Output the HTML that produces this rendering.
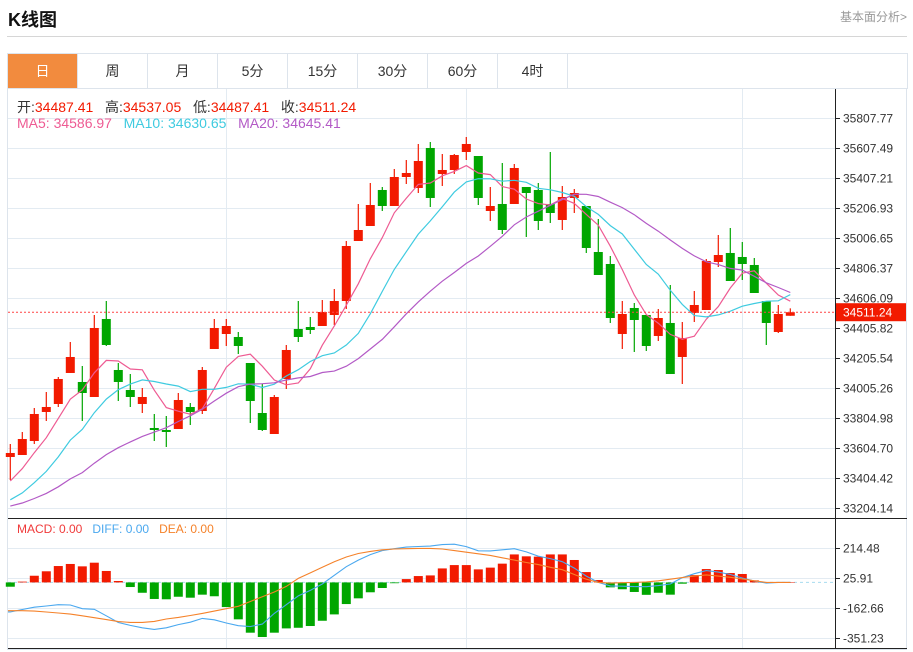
<!DOCTYPE html>
<html><head><meta charset="utf-8">
<style>
body{margin:0;background:#fff;font-family:"Liberation Sans","Noto Sans CJK SC",sans-serif;width:913px;height:652px;overflow:hidden;position:relative}
.title{position:absolute;left:8px;top:6px;font-size:18px;font-weight:bold;color:#111}
.more{position:absolute;right:6px;top:8px;font-size:12px;color:#999}
.hr{position:absolute;left:7px;top:36px;width:900px;height:1px;background:#d6d6d6}
.tabs{position:absolute;left:7px;top:53px;width:899px;height:35px;border:1px solid #dde4ec;border-bottom:none}
.tab{position:absolute;top:0;width:69px;height:35px;line-height:35px;text-align:center;font-size:14px;color:#333;border-right:1px solid #dde4ec}
.tab.on{background:#f28b3e;color:#fff}
svg{position:absolute;left:0;top:0}
</style></head><body>
<div class="title">K线图</div>
<div class="more">基本面分析&gt;</div>
<div class="hr"></div>
<div class="tabs">
<div class="tab on" style="left:0">日</div>
<div class="tab" style="left:70px">周</div>
<div class="tab" style="left:140px">月</div>
<div class="tab" style="left:210px">5分</div>
<div class="tab" style="left:280px">15分</div>
<div class="tab" style="left:350px">30分</div>
<div class="tab" style="left:420px">60分</div>
<div class="tab" style="left:490px">4时</div>
</div>
<svg id="chart" width="913" height="652"></svg>
<script>
const history = [33260,33230,33200,33180,33150,33130,33160,33140,33120,33180,33210,33150,33120,33100,33090,33250,33300,33380,33420];
const opens = [33544.7,33558,33651.5,33845.1,33898.5,34105.5,34045.4,33945.2,34466,34125.5,33992,33898.5,33738.3,33724.9,33731.6,33878.5,33851.8,34265.7,34365.8,34345.8,34172.2,33838.4,33698.2,34065.4,34399.2,34412.5,34419.2,34492.7,34586.1,34986.7,35086.8,35327.2,35220.3,35413.9,35340.5,35607.6,35434,35460.7,35580.8,35554.1,35187,35233.7,35233.7,35347.2,35327.2,35233.7,35126.9,35273.8,35220.3,34913.2,34833.1,34365.8,34539.4,34492.7,34352.5,34439.3,34212.3,34506,34526,34846.5,34906.6,34879.9,34826.5,34586.1,34379.2,34487.41];
const highs = [33631.5,33711.6,33871.8,33978.6,34078.7,34312.4,34152.2,34492.7,34586.1,34172.2,34098.8,34005.3,33831.7,33818.4,33971.9,33905.2,34145.5,34466,34466,34379.2,34172.2,34032,33958.6,34292.4,34586.1,34479.3,34592.8,34666.2,34986.7,35233.7,35373.9,35347.2,35467.4,35527.4,35634.3,35647.6,35567.5,35567.5,35681,35554.1,35347.2,35507.4,35500.7,35347.2,35373.9,35580.8,35353.9,35333.8,35220.3,35133.6,34886.5,34586.1,34572.8,34492.7,34532.7,34692.9,34445.9,34652.9,34866.5,35026.7,35073.5,34980,34873.2,34586.1,34559.4,34537.05];
const lows = [33391.1,33558,33631.5,33785,33878.5,34105.5,33785,33945.2,34285.7,33918.5,33878.5,33838.4,33651.5,33611.4,33731.6,33758.3,33831.7,34265.7,34285.7,34232.3,33771.6,33718.2,33698.2,33998.6,34312.4,34365.8,34419.2,34425.9,34532.7,34986.7,35086.8,35187,35220.3,35367.2,35307.1,35213.7,35353.9,35434,35527.4,35227,35120.2,35033.4,35233.7,35013.4,35060.1,35106.9,35060.1,35173.6,34906.6,34759.7,34439.3,34265.7,34245.7,34252.3,34319.1,34098.8,34032,34445.9,34526,34813.1,34719.6,34726.3,34639.5,34292.4,34372.5,34487.41];
const closes = [33571.4,33664.8,33831.7,33878.5,34065.4,34212.3,33971.9,34405.9,34292.4,34045.4,33945.2,33945.2,33724.9,33711.6,33925.2,33845.1,34125.5,34405.9,34419.2,34285.7,33918.5,33724.9,33945.2,34259,34345.8,34392.5,34512.7,34586.1,34953.3,35060.1,35227,35220.3,35413.9,35440.7,35520.8,35273.8,35460.7,35560.8,35634.3,35273.8,35220.3,35060.1,35474,35307.1,35120.2,35173.6,35280.4,35307.1,34940,34759.7,34472.6,34499.3,34459.3,34285.7,34472.6,34098.8,34339.1,34559.4,34853.2,34893.2,34719.6,34833.1,34639.5,34439.3,34499.3,34511.24];
const macdBars = [-27,5,42,70,103,116,101,124,72,9,-29,-65,-104,-106,-90,-96,-77,-87,-155,-232,-316,-343,-316,-289,-285,-274,-241,-201,-136,-100,-62,-35,-5,21,40,44,88,109,109,82,93,118,176,164,162,176,176,141,65,15,-31,-43,-60,-78,-65,-77,-8,46,84,78,59,53,13,-3,0,0];
const diffs = [-185,-170,-156,-148,-140,-142,-165,-169,-210,-252,-270,-285,-295,-285,-265,-250,-226,-235,-255,-272,-278,-262,-195,-140,-85,-50,-10,45,99,140,175,200,212,222,226,228,238,240,225,199,198,205,212,192,165,150,130,90,40,0,-22,-24,-26,-27,-20,-10,30,55,74,65,50,28,9,-4,0,0];
const deas = [-178,-178,-180,-186,-192,-199,-210,-222,-234,-246,-251,-251,-245,-230,-220,-208,-195,-180,-165,-150,-120,-90,-60,-25,25,60,95,130,160,182,195,205,210,212,214,214,210,200,190,180,170,155,140,125,112,95,80,50,20,0,-4,-2,0,3,10,20,30,40,47,40,32,22,10,0,0,0];
const priceTicks = ["35807.77","35607.49","35407.21","35206.93","35006.65","34806.37","34606.09","34405.82","34205.54","34005.26","33804.98","33604.70","33404.42","33204.14"];
const macdTicks = ["214.48","25.91","-162.66","-351.23"];

const NS="http://www.w3.org/2000/svg";
const svg=document.getElementById('chart');
function mk(tag,attrs,parent){const e=document.createElementNS(NS,tag);for(const k in attrs)e.setAttribute(k,attrs[k]);(parent||svg).appendChild(e);return e;}
const pTop=35807.77,pBot=33204.14,yTop=118,yBot=508;
function py(p){return yTop+(pTop-p)*(yBot-yTop)/(pTop-pBot);}
const mTop=214.48,mBot=-351.23,myTop=548.3,myBot=638.3;
function my(v){return myTop+(mTop-v)*(myBot-myTop)/(mTop-mBot);}
function cx(i){return 10.3+12*i;}

let f=mk('rect',{x:7.5,y:88.5,width:899,height:561,fill:'none',stroke:'#dde4ec'});


const grid=mk('g',{stroke:'#e3ebf2','stroke-width':1});


priceTicks.forEach(t=>{const y=Math.round(py(parseFloat(t)))+0.5;mk('line',{x1:8,x2:836,y1:y,y2:y},grid);});
macdTicks.forEach(t=>{const y=Math.round(my(parseFloat(t)))+0.5;mk('line',{x1:8,x2:836,y1:y,y2:y},grid);});
[226.5,466.5,742.5].forEach(x=>{mk('line',{x1:x,x2:x,y1:89,y2:649},grid);});
const ax=mk('g',{stroke:'#222','stroke-width':1});


mk('line',{x1:835.5,x2:835.5,y1:89,y2:649},ax);
mk('line',{x1:8,x2:907,y1:518.5,y2:518.5},ax);
mk('line',{x1:8,x2:907,y1:648.5,y2:648.5},ax);
const lab=mk('g',{'font-size':12,fill:'#333','font-family':'Liberation Sans, sans-serif'});


priceTicks.forEach(t=>{const y=Math.round(py(parseFloat(t)))+0.5;mk('line',{x1:835,x2:840,y1:y,y2:y,stroke:'#222'},lab);const tx=mk('text',{x:843,y:y+4},lab);tx.textContent=t;});
macdTicks.forEach(t=>{const y=Math.round(my(parseFloat(t)))+0.5;mk('line',{x1:835,x2:840,y1:y,y2:y,stroke:'#222'},lab);const tx=mk('text',{x:843,y:y+4},lab);tx.textContent=t;});

const cg=mk('g',{});


const RED='#f21a00',GREEN='#00a600';
for(let i=0;i<closes.length;i++){
  const up=closes[i]>=opens[i];const col=up?RED:GREEN;const x=cx(i);
  const g=mk('g',{},cg);
  
  
  mk('line',{x1:x,x2:x,y1:py(highs[i]),y2:py(lows[i]),stroke:col,'stroke-width':1.2},g);
  const t=py(Math.max(opens[i],closes[i])),b=py(Math.min(opens[i],closes[i]));
  mk('rect',{x:x-4.5,y:t,width:9,height:Math.max(1.5,b-t),fill:col},g);
}
const all=history.concat(closes);
function ma(n){return closes.map((c,i)=>{const j=i+history.length;let s=0;for(let k=j-n+1;k<=j;k++)s+=all[k];return s/n;});}
[[5,'#ee5b93','ma5-line'],[10,'#3fcbe0','ma10-line'],[20,'#b35ac6','ma20-line']].forEach(([n,c,name])=>{
  const v=ma(n);const d=v.map((p,i)=>(i?'L':'M')+cx(i).toFixed(1)+','+py(p).toFixed(1)).join('');
  const pth=mk('path',{d:d,fill:'none',stroke:c,'stroke-width':1.2});
  
  
});
const ly=py(closes[closes.length-1]);
const lp=mk('line',{x1:8,x2:835,y1:ly,y2:ly,stroke:'#f44','stroke-dasharray':'2,2','stroke-width':1});


const lbg=mk('rect',{x:836,y:ly-9,width:70,height:18,fill:'#f21a00'});


const lt=mk('text',{x:843,y:ly+4.5,'font-size':12,fill:'#fff'});
lt.textContent=closes[closes.length-1].toFixed(2);
const zy=my(0);
const zl=mk('line',{x1:8,x2:835,y1:zy,y2:zy,stroke:'#a8dcef','stroke-dasharray':'3,3'});


const mg=mk('g',{});


macdBars.forEach((v,i)=>{const y=my(v);const r=mk('rect',{x:cx(i)-4.5,y:Math.min(y,zy),width:9,height:Math.max(0.5,Math.abs(y-zy)),fill:v>=0?RED:GREEN},mg);
  
  });
[[diffs,'#4aa8ef','diff-line'],[deas,'#f5822a','dea-line']].forEach(([arr,c,name])=>{
  const d=arr.map((v,i)=>(i?'L':'M')+cx(i).toFixed(1)+','+my(v).toFixed(1)).join('');
  const pth=mk('path',{d:'M8,'+my(arr[0]).toFixed(1)+d.replace('M','L'),fill:'none',stroke:c,'stroke-width':1.1});
  
  
});
</script>
<div style="position:absolute;left:17px;top:97px;font-size:14px;white-space:nowrap"><span style="color:#333">开:</span><span style="color:#f21a00">34487.41</span>&nbsp;&nbsp; <span style="color:#333">高:</span><span style="color:#f21a00">34537.05</span>&nbsp;&nbsp; <span style="color:#333">低:</span><span style="color:#f21a00">34487.41</span>&nbsp;&nbsp; <span style="color:#333">收:</span><span style="color:#f21a00">34511.24</span></div>
<div style="position:absolute;left:17px;top:115px;font-size:14px;white-space:nowrap"><span style="color:#ee5b93">MA5: 34586.97</span>&nbsp;&nbsp; <span style="color:#3fcbe0">MA10: 34630.65</span>&nbsp;&nbsp; <span style="color:#b35ac6">MA20: 34645.41</span></div>
<div style="position:absolute;left:17px;top:522px;font-size:12px;white-space:nowrap"><span style="color:#f03a3a">MACD: 0.00</span>&nbsp;&nbsp; <span style="color:#4aa8ef">DIFF: 0.00</span>&nbsp;&nbsp; <span style="color:#f5822a">DEA: 0.00</span></div>
</body></html>
